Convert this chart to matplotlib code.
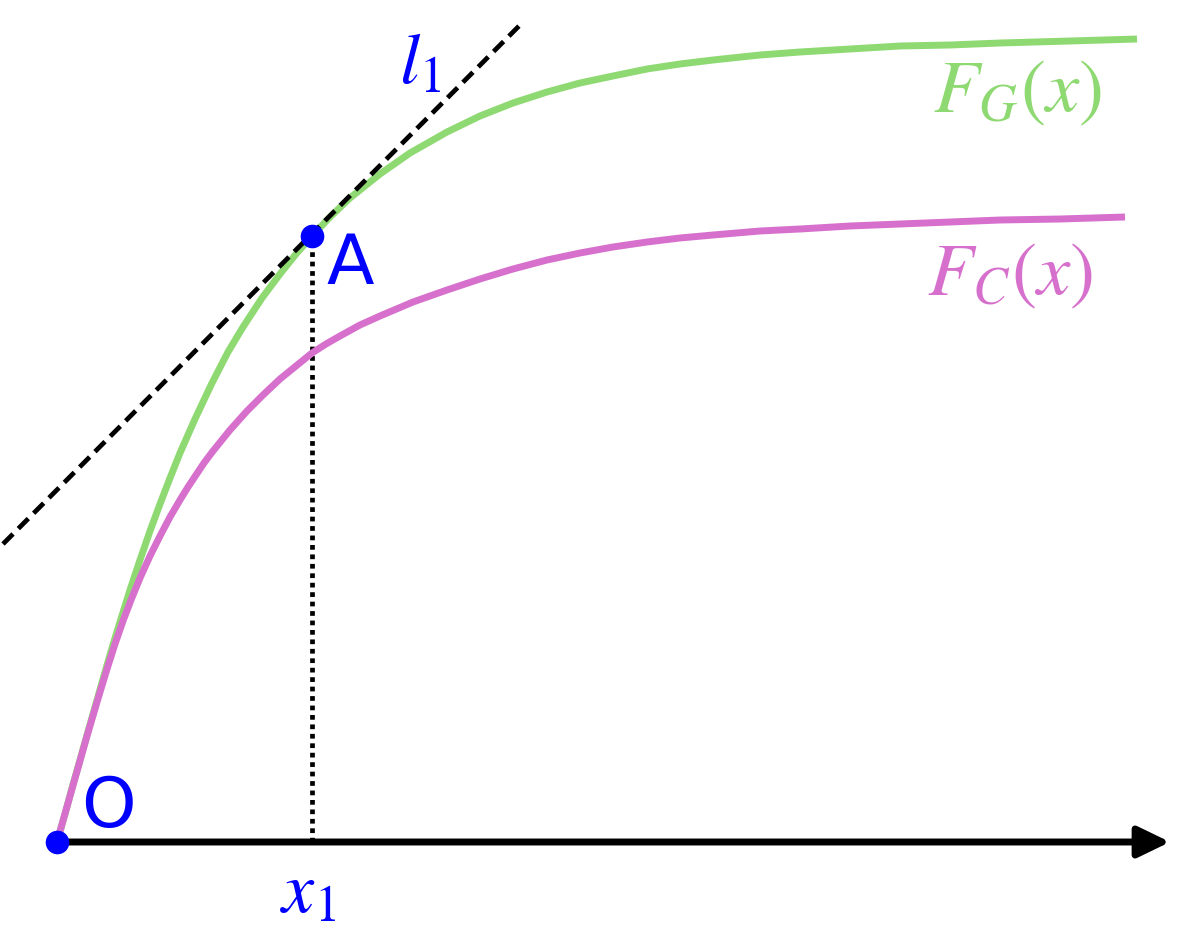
import numpy as np
import matplotlib
matplotlib.use("Agg")
import matplotlib.pyplot as plt

plt.rcParams['mathtext.fontset'] = 'stix'

# ---- data ----
green_x = [0.00, 0.08, 0.15, 0.23, 0.30, 0.38, 0.46, 0.55, 0.63, 0.73, 0.83, 0.93,
           1.03, 1.13, 1.23, 1.38, 1.55, 1.71, 1.86, 2.05, 2.23, 2.39, 2.55, 2.73,
           2.93, 3.23, 3.53, 3.90, 4.23, 4.56, 4.90, 5.23, 5.56, 5.90, 6.23, 6.56,
           7.03, 7.43, 7.93, 8.43, 8.93, 9.43, 10.13, 10.80]
green_y = [0.00, 0.28, 0.54, 0.82, 1.07, 1.35, 1.63, 1.94, 2.20, 2.52, 2.82, 3.11,
           3.38, 3.64, 3.89, 4.23, 4.59, 4.90, 5.15, 5.44, 5.68, 5.88, 6.06, 6.25,
           6.44, 6.68, 6.89, 7.10, 7.26, 7.39, 7.50, 7.59, 7.66, 7.73, 7.78, 7.82,
           7.87, 7.90, 7.93, 7.96, 7.97, 7.99, 8.01, 8.03]

magenta_x = [0.00, 0.15, 0.30, 0.40, 0.50, 0.58, 0.66, 0.74, 0.83, 0.93, 1.03, 1.13,
             1.23, 1.31, 1.39, 1.47, 1.56, 1.73, 1.90, 2.06, 2.23, 2.39, 2.55, 2.69,
             2.83, 3.03, 3.23, 3.56, 3.90, 4.23, 4.56, 4.90, 5.23, 5.56, 5.90, 6.23,
             6.56, 7.03, 7.43, 7.93, 8.43, 8.93, 9.43, 10.03, 10.68]
magenta_y = [0.00, 0.53, 1.06, 1.40, 1.73, 1.98, 2.21, 2.42, 2.64, 2.86, 3.06, 3.25,
             3.42, 3.55, 3.67, 3.79, 3.91, 4.12, 4.31, 4.47, 4.63, 4.76, 4.89, 4.98,
             5.06, 5.17, 5.26, 5.40, 5.52, 5.63, 5.73, 5.82, 5.89, 5.95, 6.00, 6.04,
             6.07, 6.11, 6.13, 6.16, 6.18, 6.20, 6.22, 6.23, 6.25]

point_O = (0.0, 0.0)
point_A = (2.55, 6.06)
tangent_x = [-0.54, 4.65]
tangent_y = [2.98, 8.19]
axis_end = 11.13

label_G = r'$F_G(x)$'
label_C = r'$F_C(x)$'
label_l = r'$l_1$'
label_x = r'$x_1$'

GREEN = '#8fd972'
MAGENTA = '#d670cc'
BLUE = '#0000ff'

fig = plt.figure(figsize=(11.99, 9.37), dpi=100)
ax = fig.add_axes([0, 0, 1, 1])
ax.set_xlim(-0.57, 11.42)
ax.set_ylim(-0.94, 8.43)
ax.axis('off')

# x-axis arrow
ax.annotate('', xy=(axis_end, 0), xytext=(0, 0),
            arrowprops=dict(arrowstyle='-|>,head_length=0.97,head_width=0.47',
                            mutation_scale=20, lw=5, color='black',
                            shrinkA=0, shrinkB=0), zorder=2)

# dotted vertical from A
ax.plot([point_A[0], point_A[0]], [0, point_A[1]], color='black', lw=3.4,
        linestyle=(0, (1, 1)), dash_capstyle='butt', zorder=1)

# curves
ax.plot(green_x, green_y, color=GREEN, lw=5, solid_capstyle='butt',
        solid_joinstyle='round', zorder=3)
ax.plot(magenta_x, magenta_y, color=MAGENTA, lw=5, solid_capstyle='butt',
        solid_joinstyle='round', zorder=4)

# tangent
ax.plot(tangent_x, tangent_y, color='black', lw=3.4, linestyle=(0, (3.0, 1.6)),
        dash_capstyle='butt', zorder=5)

# points
ax.plot([point_O[0], point_A[0]], [point_O[1], point_A[1]], 'o', color=BLUE,
        markersize=16, zorder=6)

def px(x, y):
    return ((x - 57) / 100.0, (843 - y) / 100.0)

ax.text(*px(108, 808), 'O', color=BLUE, fontsize=50, ha='center', va='center',
        family='DejaVu Sans')
ax.text(*px(350, 265), 'A', color=BLUE, fontsize=50, ha='center', va='center',
        family='DejaVu Sans')
ax.text(*px(420, 64), label_l, color=BLUE, fontsize=52, ha='center', va='center')
ax.text(*px(308, 893), label_x, color=BLUE, fontsize=52, ha='center', va='center')
ax.text(*px(1017, 91), label_G, color=GREEN, fontsize=54, ha='center', va='center')
ax.text(*px(1010, 274), label_C, color=MAGENTA, fontsize=54, ha='center', va='center')

fig.savefig('out.png', dpi=100)
